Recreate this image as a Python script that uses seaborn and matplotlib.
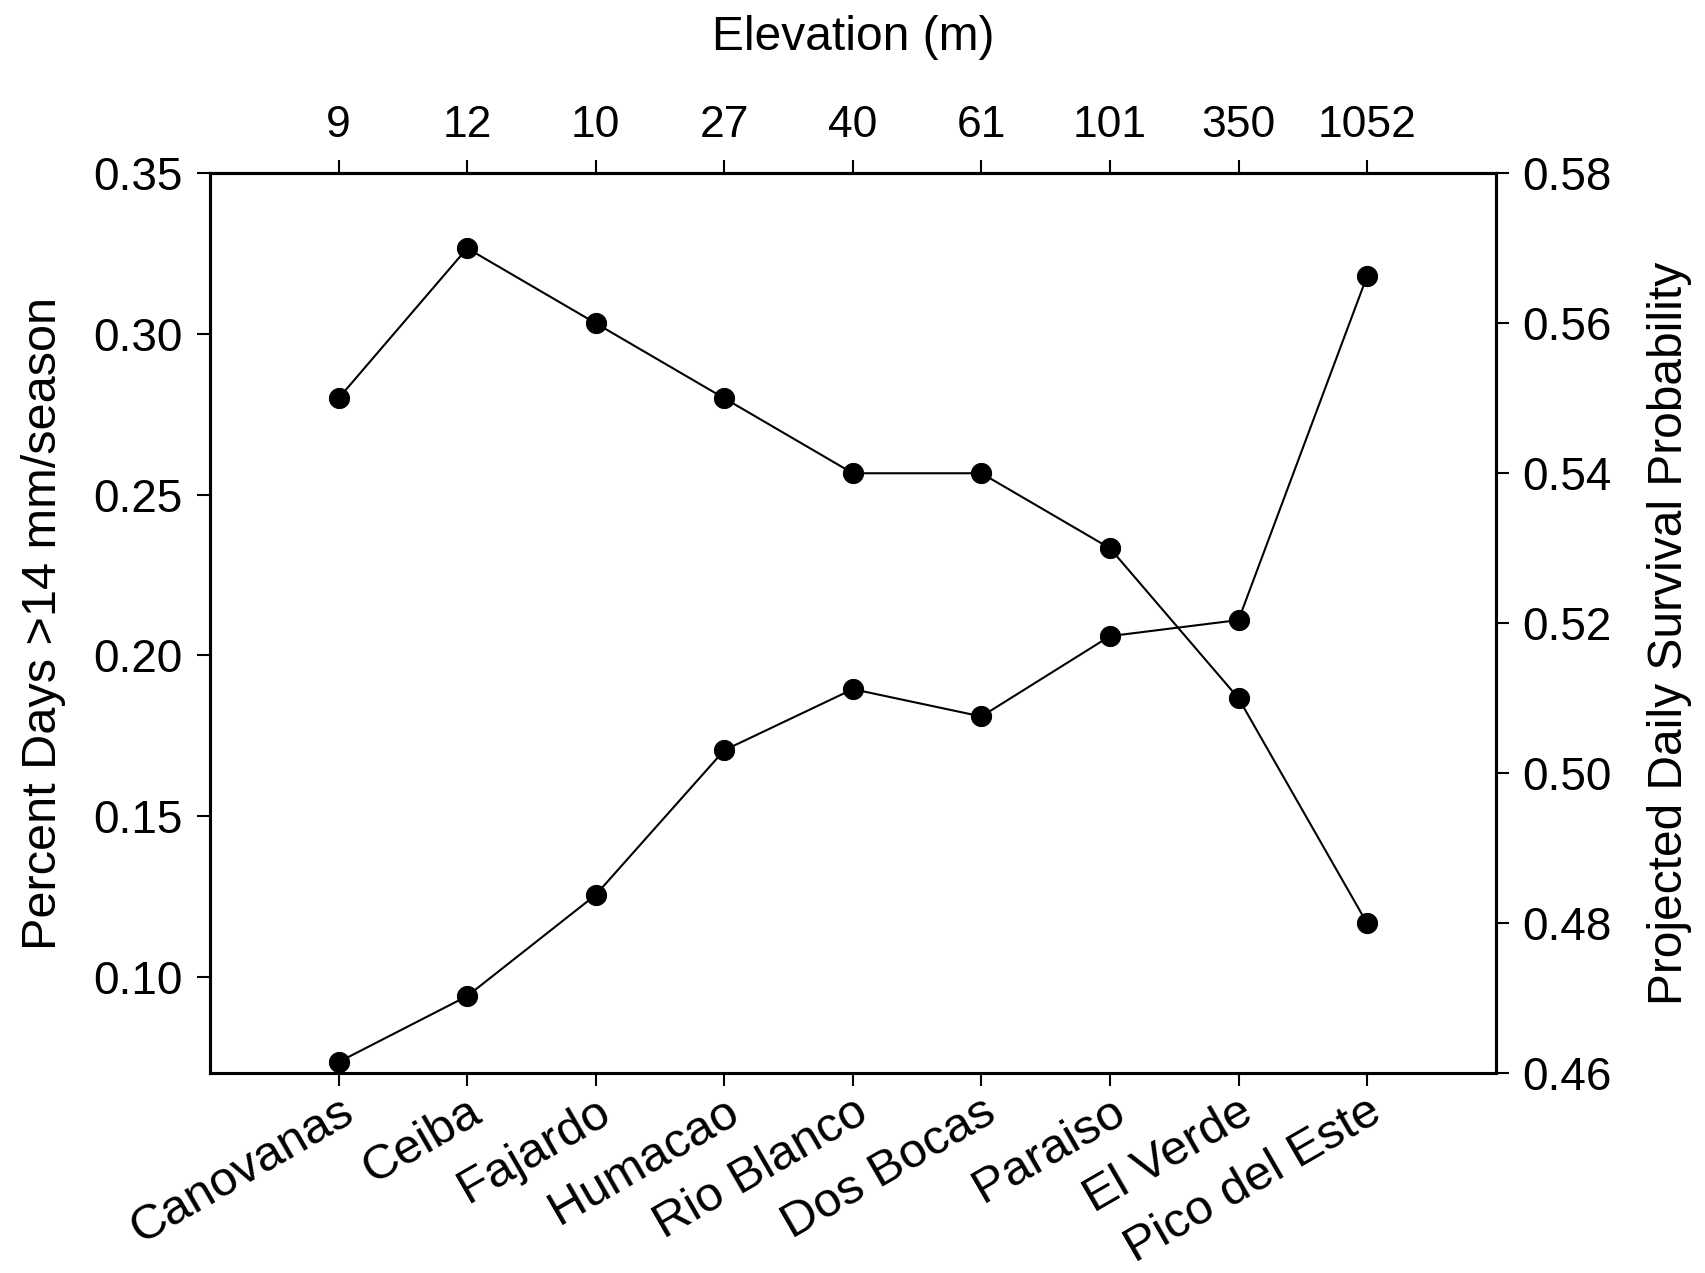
import numpy as np
import pandas as pd
import matplotlib
matplotlib.use('Agg')
import matplotlib.pyplot as plt
import seaborn as sns

# sites along the transect, with their elevation (m)
sites = ['Canovanas', 'Ceiba', 'Fajardo', 'Humacao', 'Rio Blanco',
         'Dos Bocas', 'Paraiso', 'El Verde', 'Pico del Este']
elevation = [9, 12, 10, 27, 40, 61, 101, 350, 1052]

# left axis: percent days > 14 mm per season
pct_days = [0.0735, 0.094, 0.1255, 0.1705, 0.1895, 0.181, 0.206, 0.211, 0.318]
# right axis: projected daily survival probability
survival = [0.550, 0.570, 0.560, 0.550, 0.540, 0.540, 0.530, 0.510, 0.480]

df = pd.DataFrame({'site': sites, 'pos': np.arange(len(sites)),
                   'pct_days': pct_days, 'survival': survival})

sns.set_style('ticks')
plt.rcParams['font.family'] = ['Liberation Sans', 'DejaVu Sans']
plt.rcParams['text.color'] = 'black'
plt.rcParams['axes.labelcolor'] = 'black'
plt.rcParams['xtick.color'] = 'black'
plt.rcParams['ytick.color'] = 'black'

fig = plt.figure(figsize=(17.05, 12.73), dpi=100)
ax = fig.add_axes([0.1232, 0.1569, 0.754, 0.707])
ax2 = ax.twinx()

line_kw = dict(color='black', linewidth=1.5, marker='o', markersize=14.5,
               markeredgecolor='black', markerfacecolor='black', clip_on=False)
sns.lineplot(data=df, x='pos', y='pct_days', ax=ax, **line_kw)
sns.lineplot(data=df, x='pos', y='survival', ax=ax2, **line_kw)

ax.set_xlim(-1, len(sites))
ax.set_ylim(0.07, 0.35)
ax.set_yticks(np.arange(0.10, 0.351, 0.05))
ax.set_yticklabels([f'{v:.2f}' for v in np.arange(0.10, 0.351, 0.05)])
ax2.set_ylim(0.46, 0.58)
ax2.set_yticks(np.arange(0.46, 0.581, 0.02))
ax2.set_yticklabels([f'{v:.2f}' for v in np.arange(0.46, 0.581, 0.02)])

ax.set_xticks(df['pos'])
ax.set_xticklabels(sites, rotation=30, ha='right', rotation_mode='anchor')
ax.set_xlabel('')
ax.set_ylabel('Percent Days >14 mm/season', fontsize=35, labelpad=20)
ax2.set_ylabel('Projected Daily Survival Probability', fontsize=34.5)
ax2.yaxis.set_label_coords(1.118, 0.489)

top = ax.secondary_xaxis('top')
top.set_xticks(df['pos'])
top.set_xticklabels([str(e) for e in elevation])
top.set_xlabel('Elevation (m)', fontsize=34.5, labelpad=40)

for a in (ax, ax2, top):
    a.tick_params(direction='out', length=9.5, width=1.5, labelsize=33,
                  color='black', labelcolor='black', pad=10)
    for s in a.spines.values():
        s.set_linewidth(2.2)
        s.set_color('black')
top.tick_params(labelsize=32)
ax.tick_params(axis='x', pad=2, labelsize=35.5)

fig.savefig('out.png', dpi=100)
